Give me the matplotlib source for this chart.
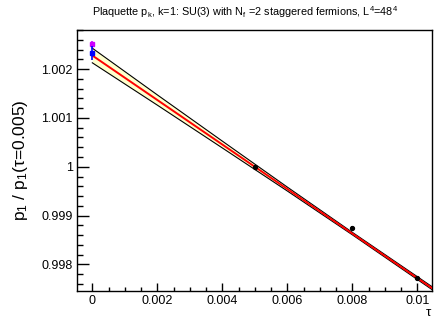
import matplotlib
matplotlib.use("Agg")
import matplotlib.pyplot as plt
import matplotlib.ticker as mticker
import numpy as np

plt.rcParams["font.family"] = ["Liberation Sans", "DejaVu Sans"]
plt.rcParams["mathtext.fontset"] = "custom"
plt.rcParams["mathtext.rm"] = "Liberation Sans"
plt.rcParams["mathtext.it"] = "Liberation Sans:italic"

# ── Data ──────────────────────────────────────────────────────────────────────
tau = [0.005, 0.008, 0.010]
ratio = [1.00000, 0.998745, 0.997727]
ratio_err = [0.00003, 0.00004, 0.00002]

tau0_blue = [0.0]
ratio0_blue = [1.002327]
err0_blue = [0.00014]
tau0_mag = [0.0]
ratio0_mag = [1.002516]
err0_mag = [0.00006]

fit_intercept = 1.00228
fit_slope = -0.456
band_tau = [0.0, 0.002, 0.004, 0.006, 0.008, 0.0106]
band_half = [0.00015, 0.000105, 0.00007, 0.00004, 0.000025, 0.00003]

XTICKS = [0, 0.002, 0.004, 0.006, 0.008, 0.01]
XTICKLABELS = ["0", "0.002", "0.004", "0.006", "0.008", "0.01"]
YTICKS = [0.998, 0.999, 1.0, 1.001, 1.002]
YTICKLABELS = ["0.998", "0.999", "1", "1.001", "1.002"]

# ── Figure ────────────────────────────────────────────────────────────────────
fig = plt.figure(figsize=(4.34, 3.20), dpi=100)
ax = fig.add_axes([77 / 434, 1 - 291 / 320, (432 - 77) / 434, (291 - 30) / 320])

bt = np.array(band_tau)
centre = fit_intercept + fit_slope * bt
upper = centre + np.array(band_half)
lower = centre - np.array(band_half)
ax.fill_between(bt, lower, upper, color="#ffffcc", lw=0, zorder=1)
ax.plot(bt, upper, color="black", lw=0.8, zorder=2)
ax.plot(bt, lower, color="black", lw=0.8, zorder=2)
ax.plot(bt, centre, color="red", lw=1.4, zorder=3)

ax.errorbar(tau, ratio, yerr=ratio_err, fmt="o", color="black", ms=2.8,
            elinewidth=1.2, capsize=0, zorder=5)
ax.errorbar(tau0_mag, ratio0_mag, yerr=err0_mag, fmt="s", color="#cc00ff",
            ms=3, elinewidth=1.2, capsize=0, zorder=5)
ax.errorbar(tau0_blue, ratio0_blue, yerr=err0_blue, fmt="s", color="#0000ff",
            ms=2.6, elinewidth=1.2, capsize=0, zorder=6)

ax.set_xlim(-0.000471, 0.010452)
ax.set_ylim(0.997455, 1.002802)

ax.set_xticks(XTICKS)
ax.set_xticklabels(XTICKLABELS)
ax.set_yticks(YTICKS)
ax.set_yticklabels(YTICKLABELS)
ax.xaxis.set_minor_locator(mticker.MultipleLocator(0.0005))
ax.yaxis.set_minor_locator(mticker.MultipleLocator(0.0002))
ax.tick_params(axis="both", which="both", direction="in", labelsize=9,
               top=False, right=False, width=1)
ax.tick_params(axis="x", which="major", length=5.5, pad=3)
ax.tick_params(axis="x", which="minor", length=2.8)
ax.tick_params(axis="y", which="major", length=8.5, pad=3)
ax.tick_params(axis="y", which="minor", length=4.3)
for s in ax.spines.values():
    s.set_linewidth(1)

fig.text(428 / 434, 1 - 313 / 320, "τ", ha="center", va="center", fontsize=9.5)
ax.set_ylabel(r"p$_1$ / p$_1$(τ=0.005)", fontsize=12.5, labelpad=8)

fig.text(245 / 434, 1 - 12 / 320,
         r"Plaquette p$_\mathrm{k}$, k=1: SU(3) with N$_\mathrm{f}$ =2 staggered fermions, L$^4$=48$^4$",
         ha="center", va="center", fontsize=7.8)

fig.savefig("out.png", dpi=100)
